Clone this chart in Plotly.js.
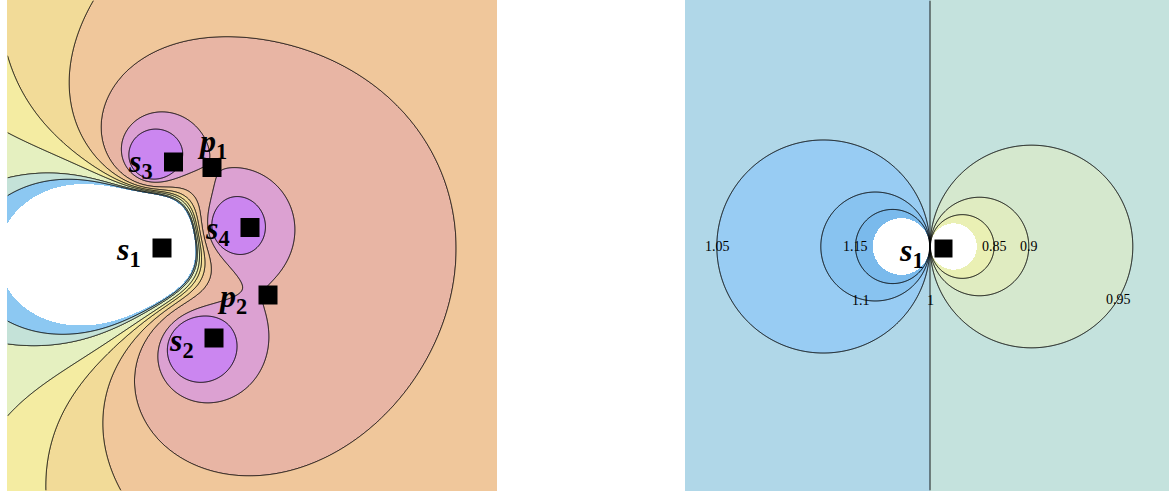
<!DOCTYPE html>
<html><head><meta charset="utf-8">
<script src="https://cdn.plot.ly/plotly-3.0.1.min.js"></script>
<style>html,body{margin:0;padding:0;background:#fff;overflow:hidden}</style>
</head><body><div id="chart" style="width:1169px;height:493px"></div>
<script>
// ---- left panel: point sources (fitted to the contours) ----
const sourceX = [146.5504,195.3006,151.695,229.9169];
const sourceY = [239.0366,344.6662,161.389,227.2631];
const sourceCharge = [-2.2309,0.877,1,0.7681];
const fieldExponent = 0.4;
const uniformField = [-0.0416,0.009];
const leftLevels = [-0.8593,-0.4392,0.082,0.3468,0.5266,0.6459,0.7962,0.8592,0.9387];

// markers and labels
const leftMarkX = [162,214,173.5,250,212,268];
const leftMarkY = [248,338,162,227.5,167.5,295];
const leftLabelText = ['s','s','s','s','p','p'];
const leftLabelSub = ['1','2','3','4','1','2'];
const leftLabelX = [128.5,181.5,140.5,217.5,212,232];
const leftLabelY = [251,342,163,230,143,298];

// ---- right panel: two point sources, distance-ratio field ----
const dipoleX = [924.8,935.2];
const dipoleY = [246.5,246.5];
const rightBounds = [0.8,0.85,0.9,0.95,1,1.05,1.1,1.15,1.2];
const rightLabelText = ['1.05','1.15','1.1','1','0.85','0.9','0.95'];
const rightLabelX = [717,855,861,930,994,1029,1118];
const rightLabelY = [246,246,300,300,246,246,299];
const rightMarkX = [943.5], rightMarkY = [248.5];

const leftColors = ['rgb(203,134,240)','rgb(220,161,210)','rgb(232,181,164)','rgb(240,199,155)','rgb(242,219,152)','rgb(244,236,162)','rgb(229,240,192)','rgb(196,226,216)','rgb(140,200,242)','rgb(255,255,255)'];
const rightColors = ['rgb(255,255,255)','rgb(234,240,180)','rgb(224,236,193)','rgb(213,232,206)','rgb(196,226,221)','rgb(176,215,232)','rgb(152,204,243)','rgb(136,195,240)','rgb(122,186,236)','rgb(255,255,255)'];

function phiFn(x,y){
  const a=fieldExponent;
  let s=uniformField[0]*(x-250)/100+uniformField[1]*(y-250)/100;
  for(let i=0;i<sourceX.length;i++){const dx=x-sourceX[i],dy=y-sourceY[i];
    s+=sourceCharge[i]*(1-Math.pow((dx*dx+dy*dy+0.25)/10000,-a/2))/a;}
  return s;
}
function toIndex(v,L){const n=L.length;if(v<=L[0])return Math.max(-1,(v-L[0])/(L[1]-L[0]));
  if(v>=L[n-1])return Math.min(n,n-1+(v-L[n-1])/(L[n-1]-L[n-2]));
  for(let k=0;k<n-1;k++)if(v<L[k+1])return k+(v-L[k])/(L[k+1]-L[k]);return n-1;}
function stepScale(colors){const n=colors.length,cs=[];colors.forEach((c,i)=>{cs.push([i/n,c]);cs.push([(i+1)/n,c]);});return cs;}

const L=leftLevels;
const xsL=[],ysL=[];for(let x=7.5;x<497;x+=1)xsL.push(x);for(let y=0.5;y<491;y+=1)ysL.push(y);
const bandL=[],tL=[];
ysL.forEach(y=>{const rb=[],rt=[];xsL.forEach(x=>{const v=phiFn(x,y);let b=0;while(b<9&&v>=L[b])b++;rb.push(b);rt.push(toIndex(v,L));});bandL.push(rb);tL.push(rt);});
const xsR=[],ysR=[];for(let x=685.5;x<1169;x+=1)xsR.push(x);for(let y=0.5;y<491;y+=1)ysR.push(y);
const bandR=[],fR=[];
ysR.forEach(y=>{const rb=[],rf=[];xsR.forEach(x=>{const ra=Math.hypot(x-dipoleX[0],y-dipoleY[0])+0.01;const rbb=Math.hypot(x-dipoleX[1],y-dipoleY[1])+0.01;let f=rbb/ra;f=Math.max(0.4,Math.min(2.5,f));let b=0;while(b<9&&f>=rightBounds[b])b++;rb.push(b);rf.push(f);});bandR.push(rb);fR.push(rf);});

const traces=[
 {type:'heatmap',x:xsL,y:ysL,z:bandL,zmin:-0.5,zmax:9.5,colorscale:stepScale(leftColors),showscale:false,zsmooth:false,hoverinfo:'skip',xaxis:'x',yaxis:'y'},
 {type:'contour',x:xsL,y:ysL,z:tL,contours:{start:0,end:7,size:1,coloring:'none'},line:{color:'black',width:1,smoothing:0.6},showscale:false,hoverinfo:'skip',xaxis:'x',yaxis:'y'},
 {type:'heatmap',x:xsR,y:ysR,z:bandR,zmin:-0.5,zmax:9.5,colorscale:stepScale(rightColors),showscale:false,zsmooth:false,hoverinfo:'skip',xaxis:'x2',yaxis:'y2'},
 {type:'contour',x:xsR,y:ysR,z:fR,contours:{start:0.85,end:1.1501,size:0.05,coloring:'none'},line:{color:'black',width:1,smoothing:0.6},showscale:false,hoverinfo:'skip',xaxis:'x2',yaxis:'y2'},
 {type:'scatter',mode:'markers',x:leftMarkX,y:leftMarkY,marker:{symbol:'square',size:19,color:'black'},hoverinfo:'skip',xaxis:'x',yaxis:'y'},
 {type:'scatter',mode:'markers',x:rightMarkX,y:rightMarkY,marker:{symbol:'square',size:18,color:'black'},hoverinfo:'skip',xaxis:'x2',yaxis:'y2'}
];
const ann=[];
leftLabelText.forEach((t,i)=>ann.push({x:leftLabelX[i],y:leftLabelY[i],xref:'x',yref:'y',showarrow:false,xanchor:'center',yanchor:'middle',
  text:'<b><i>'+t+'</i><sub>'+leftLabelSub[i]+'</sub></b>',font:{family:'Liberation Serif',size:32,color:'black'}}));
ann.push({x:911,y:252,xref:'x2',yref:'y2',showarrow:false,xanchor:'center',yanchor:'middle',text:'<b><i>s</i><sub>1</sub></b>',font:{family:'Liberation Serif',size:32,color:'black'}});
rightLabelText.forEach((t,i)=>ann.push({x:rightLabelX[i],y:rightLabelY[i],xref:'x2',yref:'y2',showarrow:false,xanchor:'center',yanchor:'middle',text:t,font:{family:'Liberation Serif',size:14,color:'black'}}));

const layout={width:1169,height:493,margin:{l:0,r:0,t:0,b:0},paper_bgcolor:'white',plot_bgcolor:'white',showlegend:false,
 xaxis:{domain:[7/1169,497/1169],range:[7,497],visible:false,fixedrange:true},
 yaxis:{domain:[2/493,1],range:[491,0],visible:false,fixedrange:true},
 xaxis2:{domain:[685/1169,1],range:[685,1169],visible:false,fixedrange:true},
 yaxis2:{domain:[2/493,1],range:[491,0],visible:false,fixedrange:true,anchor:'x2'},
 annotations:ann};
Plotly.newPlot('chart',traces,layout,{staticPlot:true,displayModeBar:false});
</script></body></html>
